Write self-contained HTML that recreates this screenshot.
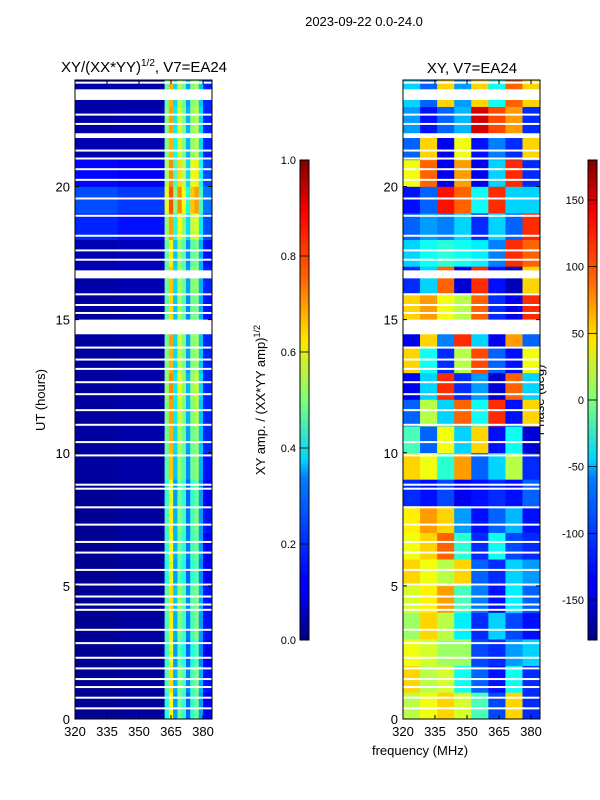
<!DOCTYPE html>
<html><head><meta charset="utf-8"><style>
body{margin:0;background:#fff;}
svg{display:block;font-family:"Liberation Sans","DejaVu Sans",sans-serif;}
</style></head><body>
<svg id="fig" width="600" height="800" viewBox="0 0 600 800">
<defs>
<linearGradient id="jet" x1="0" y1="1" x2="0" y2="0">
<stop offset="0" stop-color="#00007f"/><stop offset="0.11" stop-color="#0000ff"/><stop offset="0.125" stop-color="#0000ff"/>
<stop offset="0.34" stop-color="#0080ff"/><stop offset="0.375" stop-color="#00d4ff"/><stop offset="0.5" stop-color="#7dff7a"/>
<stop offset="0.625" stop-color="#ffe600"/><stop offset="0.75" stop-color="#ff6800"/><stop offset="0.89" stop-color="#ff0000"/><stop offset="1" stop-color="#7f0000"/>
</linearGradient>
</defs>
<text x="364" y="26" font-size="13" text-anchor="middle">2023-09-22 0.0-24.0</text>
<text x="144" y="72" font-size="15" text-anchor="middle">XY/(XX*YY)<tspan font-size="10" dy="-6">1/2</tspan><tspan dy="6">, V7=EA24</tspan></text>
<text x="472" y="73" font-size="15" text-anchor="middle">XY, V7=EA24</text>
<text transform="translate(45,400) rotate(-90)" font-size="13" text-anchor="middle">UT (hours)</text>
<text transform="translate(265,400) rotate(-90)" font-size="13" text-anchor="middle">XY amp. / (XX*YY amp)<tspan font-size="9" dy="-5">1/2</tspan></text>
<text transform="translate(544,400) rotate(-90)" font-size="13" text-anchor="middle">Phase (deg)</text>
<text x="420" y="755" font-size="13" text-anchor="middle">frequency (MHz)</text>
<g id="ampPanel"></g>
<g id="phPanel"></g>
<g id="cbars"></g>
</svg>
<script>
// ---- data ----
const freqEdgesAmp = [320,340,362,364,366,368,370,372,374,376,378,380,384];
const ampValues = [
[0.02,0.03,0.40,0.62,0.28,0.48,0.42,0.22,0.42,0.48,0.28,0.12],
[0.02,0.03,0.45,0.66,0.30,0.50,0.45,0.25,0.44,0.50,0.30,0.14],
[0.02,0.03,0.42,0.60,0.28,0.46,0.40,0.22,0.40,0.46,0.26,0.12],
[0.02,0.03,0.44,0.64,0.30,0.50,0.44,0.24,0.44,0.50,0.28,0.14],
[0.02,0.03,0.46,0.66,0.32,0.52,0.46,0.26,0.46,0.50,0.30,0.14],
[0.02,0.03,0.40,0.60,0.28,0.46,0.40,0.22,0.42,0.46,0.26,0.12],
[0.02,0.03,0.42,0.62,0.30,0.48,0.42,0.24,0.44,0.48,0.28,0.12],
[0.02,0.03,0.44,0.64,0.30,0.50,0.44,0.24,0.44,0.50,0.28,0.14],
[0.02,0.03,0.42,0.60,0.28,0.48,0.42,0.22,0.42,0.48,0.28,0.12],
[0.03,0.04,0.46,0.68,0.32,0.52,0.46,0.26,0.48,0.52,0.30,0.14],
[0.03,0.04,0.48,0.70,0.34,0.54,0.48,0.28,0.48,0.52,0.32,0.16],
[0.03,0.04,0.50,0.72,0.36,0.58,0.50,0.30,0.50,0.56,0.32,0.16],
[0.03,0.04,0.52,0.74,0.36,0.60,0.52,0.30,0.52,0.58,0.34,0.16],
[0.03,0.04,0.50,0.70,0.34,0.56,0.50,0.28,0.50,0.54,0.32,0.16],
[0.03,0.04,0.48,0.72,0.34,0.58,0.50,0.28,0.50,0.54,0.32,0.16],
[0.03,0.04,0.46,0.66,0.32,0.54,0.46,0.26,0.48,0.50,0.30,0.14],
[0.04,0.05,0.48,0.68,0.34,0.54,0.48,0.28,0.50,0.52,0.30,0.16],
[0.05,0.06,0.46,0.64,0.32,0.52,0.46,0.26,0.46,0.50,0.30,0.14],
[0.16,0.14,0.52,0.72,0.40,0.62,0.52,0.34,0.56,0.60,0.36,0.20],
[0.20,0.18,0.60,0.80,0.50,0.74,0.62,0.40,0.68,0.72,0.44,0.24],
[0.13,0.12,0.54,0.74,0.44,0.66,0.56,0.34,0.60,0.64,0.38,0.20],
[0.05,0.05,0.50,0.70,0.38,0.58,0.50,0.30,0.52,0.56,0.34,0.16],
[0.04,0.05,0.50,0.72,0.36,0.58,0.50,0.30,0.52,0.56,0.34,0.16],
[0.04,0.04,0.48,0.70,0.34,0.56,0.48,0.28,0.50,0.54,0.32,0.16]
];
const freqEdgesPh = [320,328,336,344,352,360,368,376,384];
const phaseValues = [
[20,40,60,30,-20,-110,60,-120],
[60,20,30,-40,-100,-130,-40,-120],
[40,30,10,10,-110,-120,-80,-60],
[10,60,20,-50,-120,-60,-110,-130],
[30,50,80,-20,-90,-130,-50,-100],
[60,40,20,60,-100,-120,-60,-80],
[40,60,100,-30,-120,-40,-110,-120],
[50,80,60,-80,-130,-100,-70,-130],
[-120,-130,-110,-140,-130,-120,-130,-100],
[60,40,-30,80,-100,-60,20,-120],
[-20,-100,40,-60,60,-130,-40,-150],
[-100,20,-60,100,-40,120,-130,60],
[-140,-60,120,-120,-80,-150,100,-60],
[60,-40,-120,20,110,-100,-130,40],
[-140,60,-90,120,-60,-140,80,-100],
[60,80,40,20,100,-120,-140,120],
[-120,-60,100,-150,120,-130,-160,60],
[-60,-40,-30,-40,-50,-90,120,100],
[-100,-80,-90,-60,-120,-60,-100,120],
[-130,-100,130,100,-40,120,-60,-60],
[40,100,-140,80,-140,-60,120,-120],
[-100,60,-140,40,-130,-90,-120,60],
[-80,-130,-100,-70,150,110,80,-120],
[-60,-100,60,-80,60,-40,100,60]
];
const gapBands = [[23.25,23.65],[21.82,22.0],[16.55,16.85],[14.45,15.0]];
const thinGaps = [23.9,22.7,22.35,21.35,21.05,20.65,20.25,19.55,18.9,18.15,17.6,17.25,15.95,15.55,15.25,13.95,13.5,13.15,12.65,12.2,11.6,11.05,10.4,9.9,8.8,8.65,7.95,7.3,6.65,6.25,5.6,5.05,4.6,4.3,4.1,3.35,2.85,2.3,1.9,1.5,1.2,0.8,0.4];
const xTicks = [320,335,350,365,380];
const yTicks = [0,5,10,15,20];
const ampTicks = [0.0,0.2,0.4,0.6,0.8,1.0];
const phTicks = [-150,-100,-50,0,50,100,150];

// ---- helpers ----
const NS = "http://www.w3.org/2000/svg";
function mk(tag, attrs, parent){const e=document.createElementNS(NS,tag);for(const k in attrs)e.setAttribute(k,attrs[k]);parent.appendChild(e);return e;}
function clamp(v){return Math.max(0,Math.min(1,v));}
function jet(v){v=clamp(v);const r=clamp(1.5-Math.abs(4*v-3)),g=clamp(1.5-Math.abs(4*v-2)),b=clamp(1.5-Math.abs(4*v-1));
 return "rgb("+Math.round(r*255)+","+Math.round(g*255)+","+Math.round(b*255)+")";}
const Y0=719, Y1=80;
function yScale(h){return Y0-(h/24)*(Y0-Y1);}
function makeX(left){return f=>left+(f-320)*(137/64.2);}

function panel(gid,left,edges,vals,norm,name){
  const g=document.getElementById(gid), xs=makeX(left), right=left+137;
  vals.forEach((row,ri)=>{
    row.forEach((v,ci)=>{
      const x0=xs(edges[ci]), x1=Math.min(xs(edges[ci+1]),right);
      const r=mk("rect",{x:x0,y:yScale(ri+1),width:x1-x0+0.3,height:yScale(ri)-yScale(ri+1)+0.3,fill:jet(norm(v))},g);
      
      
    });
  });
  gapBands.forEach(b=>{
    const r=mk("rect",{x:left,y:yScale(b[1]),width:137,height:yScale(b[0])-yScale(b[1]),fill:"#fff"},g);
    
    
  });
  thinGaps.forEach(h=>{
    const r=mk("rect",{x:left,y:yScale(h)-1,width:137,height:2,fill:"#fff"},g);
    
    
  });
  const fr=mk("rect",{x:left,y:Y1,width:137,height:Y0-Y1,fill:"none",stroke:"#000","stroke-width":1},g);
  
  
  xTicks.forEach(t=>{
    const x=xs(t);
    mk("line",{x1:x,y1:Y0,x2:x,y2:Y0-4,stroke:"#000"},g);
    mk("line",{x1:x,y1:Y1,x2:x,y2:Y1+4,stroke:"#000"},g);
    const tx=mk("text",{x:x,y:Y0+17,"font-size":13,"text-anchor":"middle"},g);tx.textContent=t;
    
    
  });
  yTicks.forEach(t=>{
    const y=yScale(t);
    mk("line",{x1:left,y1:y,x2:left+4,y2:y,stroke:"#000"},g);
    mk("line",{x1:right,y1:y,x2:right-4,y2:y,stroke:"#000"},g);
    const tx=mk("text",{x:left-5,y:y+5,"font-size":13,"text-anchor":"end"},g);tx.textContent=t;
    
    
  });
}
panel("ampPanel",75,freqEdgesAmp,ampValues,v=>v,"amp");
panel("phPanel",403,freqEdgesPh,phaseValues,v=>(v+180)/360,"phase");

function cbar(left,ticks,lo,hi,name){
  const g=document.getElementById("cbars"), top=160, bot=640;
  const r=mk("rect",{x:left,y:top,width:9,height:bot-top,fill:"url(#jet)",stroke:"#000","stroke-width":1},g);
  
  
  ticks.forEach(t=>{
    const y=bot-(t-lo)/(hi-lo)*(bot-top);
    mk("line",{x1:left,y1:y,x2:left+9,y2:y,stroke:"#000","stroke-width":0.8},g);
    const tx=mk("text",{x:left-4,y:y+4,"font-size":11,"text-anchor":"end"},g);
    tx.textContent=(name==="amp-colorbar")?t.toFixed(1):t;
    
    
  });
}
cbar(300,ampTicks,0,1,"amp-colorbar");
cbar(588,phTicks,-180,180,"phase-colorbar");
</script>
</body></html>
